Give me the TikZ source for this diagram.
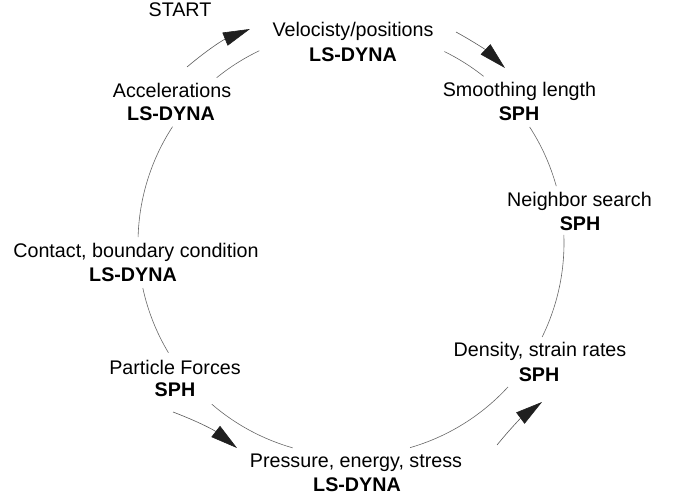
\documentclass[tikz,border=0pt]{standalone}
\usepackage{fontspec}
\setmainfont{Liberation Sans}
\usetikzlibrary{arrows.meta}
\begin{document}
\begin{tikzpicture}[x=1pt,y=1pt,
  lbl/.style={anchor=base,inner sep=0pt,font=\fontsize{19.7pt}{24pt}\selectfont},
  sub/.style={lbl,font=\fontsize{19.7pt}{24pt}\selectfont\bfseries},
  ring/.style={draw=black!60,line width=0.6pt},
  flow/.style={draw=black!65,line width=0.6pt,-{Triangle[length=27pt,width=14pt,color=black!88,fill=black!88]}}]
\useasboundingbox (0,0) rectangle (674,499);
% labels
\node[lbl] (start) at (180,482) {START};
\node[lbl] (vel) at (353,462.3) {Velocisty/positions};
\node[sub] (velS) at (353,437.3) {LS-DYNA};
\node[lbl] (smo) at (519.5,402.3) {Smoothing length};
\node[sub] (smoS) at (519,378) {SPH};
\node[lbl] (acc) at (172,401.3) {Accelerations};
\node[sub] (accS) at (171,378) {LS-DYNA};
\node[lbl] (nei) at (579.5,292.3) {Neighbor search};
\node[sub] (neiS) at (580,269) {SPH};
\node[lbl] (con) at (136,242) {Contact, boundary condition};
\node[sub] (conS) at (133,218) {LS-DYNA};
\node[lbl] (den) at (540,142.3) {Density, strain rates};
\node[sub] (denS) at (539,118) {SPH};
\node[lbl] (par) at (175,125) {Particle Forces};
\node[sub] (parS) at (175,102.3) {SPH};
\node[lbl] (pre) at (356,32) {Pressure, energy, stress};
\node[sub] (preS) at (357,8) {LS-DYNA};
% inner ring
\coordinate (O) at (351,256);
\foreach \a/\b in {129.1/115.5, 64.0/51.5, 33.0/15.5, 2.2/-26.2, -42.5/-73.9, -105.9/-130.8, -149/-167.8, 178.4/146.9}
  \draw[ring] ([shift={(\a:213)}]O) arc[start angle=\a, end angle=\b, radius=213];
% outer arrows
\coordinate (tl1) at (187,432); \coordinate (tl2) at (250,470);
\coordinate (tr1) at (456,467); \coordinate (tr2) at (505,431);
\coordinate (bl1) at (173,87);  \coordinate (bl2) at (237,51);
\coordinate (br1) at (497,54);  \coordinate (br2) at (542,97);
\draw[flow] (tl1) to[bend left=9] (tl2);
\draw[flow] (tr1) to[bend left=7.5] (tr2);
\draw[flow] (bl1) to[bend left=8.5] (bl2);
\draw[flow] (br1) to[bend left=7] (br2);
\end{tikzpicture}
\end{document}
